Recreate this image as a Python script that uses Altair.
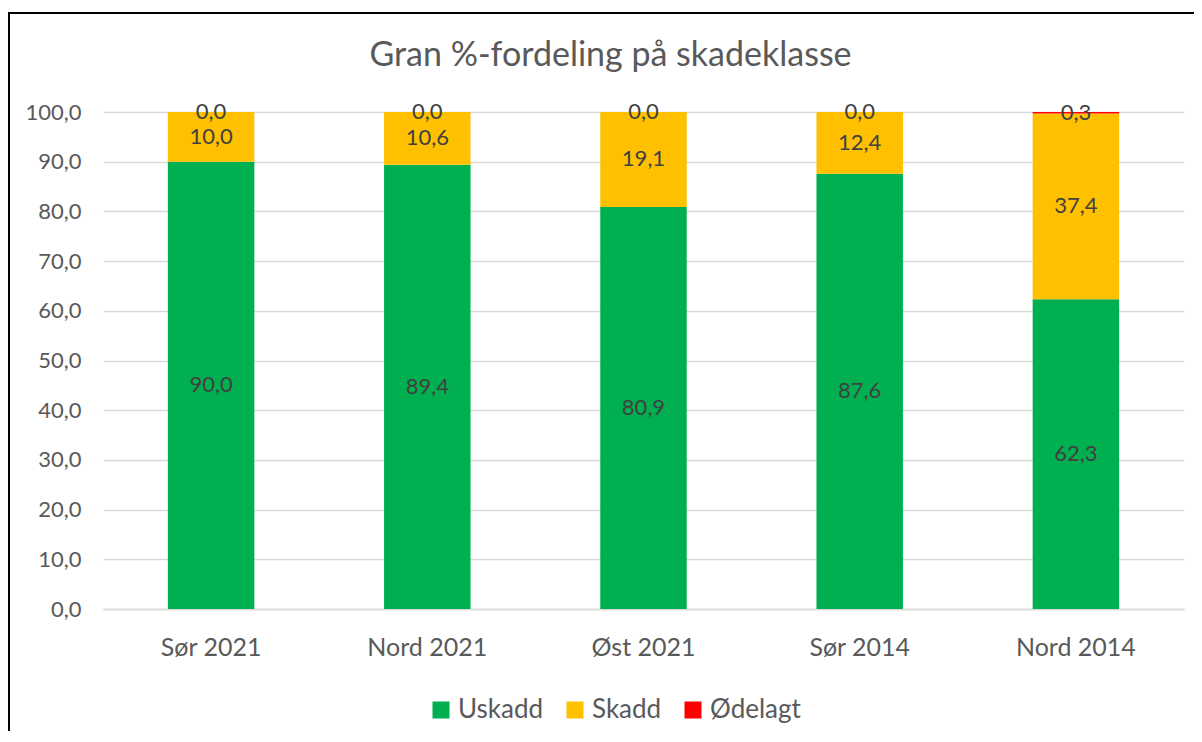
import altair as alt
import pandas as pd

categories = ["Sør 2021", "Nord 2021", "Øst 2021", "Sør 2014", "Nord 2014"]
series = ["Uskadd", "Skadd", "Ødelagt"]
colors = ["#00B050", "#FFC000", "#FF0000"]
uskadd = [90.0, 89.4, 80.9, 87.6, 62.3]
skadd = [10.0, 10.6, 19.1, 12.4, 37.4]
odelagt = [0.0, 0.0, 0.0, 0.0, 0.3]
y_ticks = [0, 10, 20, 30, 40, 50, 60, 70, 80, 90, 100]

rows = []
for i, c in enumerate(categories):
    base = 0.0
    for k, (s, vals) in enumerate(zip(series, [uskadd, skadd, odelagt])):
        v = vals[i]
        rows.append({
            "kategori": c,
            "serie": s,
            "ord": k,
            "verdi": v,
            "midt": base + v / 2,
            "etikett": f"{v:.1f}".replace(".", ","),
        })
        base += v
df = pd.DataFrame(rows)

FONT = "Lato"
GREY = "#595959"

x_enc = alt.X("kategori:N", sort=categories, title=None,
              scale=alt.Scale(paddingInner=0.6, paddingOuter=0.3),
              axis=alt.Axis(labelFontSize=25, labelColor=GREY, labelFont=FONT,
                            labelAngle=0, ticks=False, domainColor="#D9D9D9",
                            domainWidth=1.5, labelPadding=26))

bars = alt.Chart(df).mark_bar().encode(
    x=x_enc,
    y=alt.Y("verdi:Q", stack="zero", title=None,
            scale=alt.Scale(domain=[0, 100], nice=False),
            axis=alt.Axis(values=y_ticks, labelExpr="replace(format(datum.value, '.1f'), '.', ',')",
                          labelFontSize=22, labelColor=GREY, labelFont=FONT,
                          ticks=False, domain=False, grid=True, gridColor="#D9D9D9",
                          gridWidth=1.5, labelPadding=22)),
    color=alt.Color("serie:N", scale=alt.Scale(domain=series, range=colors),
                    legend=alt.Legend(title=None, orient="none", legendX=325, legendY=585,
                                      direction="horizontal", symbolType="square",
                                      symbolSize=289, symbolStrokeWidth=0,
                                      labelFontSize=26, labelColor=GREY, labelFont=FONT,
                                      labelOffset=4, columnPadding=18)),
    order=alt.Order("ord:Q", sort="ascending"),
)

labels = alt.Chart(df).mark_text(fontSize=22, font=FONT, color="#404040", baseline="middle").encode(
    x=alt.X("kategori:N", sort=categories),
    y=alt.Y("midt:Q"),
    text="etikett:N",
)

frame = pd.DataFrame({"k": [0]})
top_line = alt.Chart(frame).mark_rule(color="black", strokeWidth=2).encode(
    x=alt.value(-95), x2=alt.value(1200), y=alt.value(-99))
left_line = alt.Chart(frame).mark_rule(color="black", strokeWidth=2).encode(
    x=alt.value(-94), y=alt.value(-100), y2=alt.value(700))

chart = alt.layer(bars, labels, top_line, left_line).properties(
    width=1081, height=497,
    title=alt.TitleParams("Gran %-fordeling på skadeklasse", fontSize=34, font=FONT,
                          color=GREY, fontWeight="normal", anchor="middle", dx=-33,
                          baseline="alphabetic", offset=-89),
    autosize=alt.AutoSizeParams(type="none"),
    padding={"left": 95, "top": 104, "right": 10, "bottom": 122},
).configure_view(stroke=None)

chart.save("out.html", embed_options={"renderer": "svg", "actions": False})
